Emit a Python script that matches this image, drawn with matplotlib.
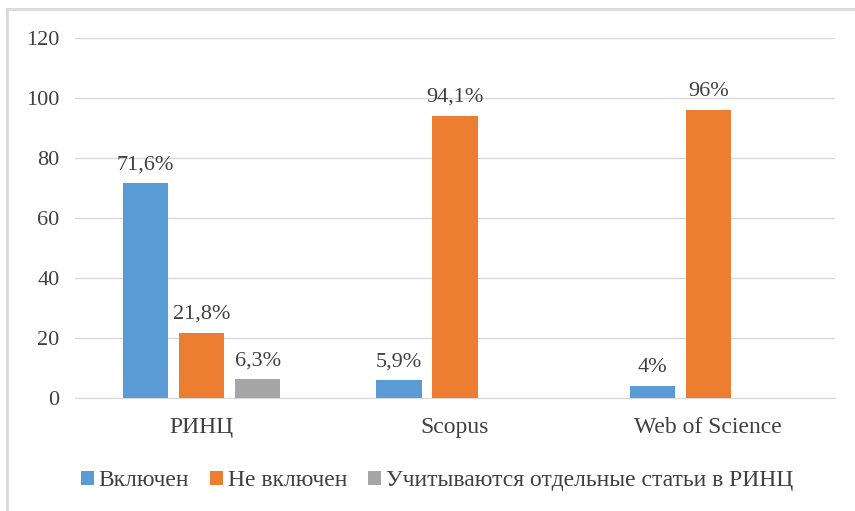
import matplotlib.pyplot as plt
import matplotlib.lines as mlines
import numpy as np

plt.rcParams['font.family'] = ['Liberation Serif', 'DejaVu Serif']

categories = ['РИНЦ', 'Scopus', 'Web of Science']
series_names = ['Включен', 'Не включен', 'Учитываются отдельные статьи в РИНЦ']
included = [71.6, 5.9, 4.0]
not_included = [21.8, 94.1, 96.0]
partial = [6.3, None, None]
included_lbl = ['71,6%', '5,9%', '4%']
not_included_lbl = ['21,8%', '94,1%', '96%']
partial_lbl = ['6,3%', None, None]

colors = ['#5B9BD5', '#ED7D31', '#A5A5A5']
txt = '#404040'

fig = plt.figure(figsize=(8.55, 5.11), dpi=100)
ax = fig.add_axes([75 / 855, 1 - 398 / 511, 760 / 855, 360 / 511])

x = np.arange(len(categories))
w = 0.178
step = 0.221

series = [(included, included_lbl), (not_included, not_included_lbl), (partial, partial_lbl)]
for k, (vals, lbls) in enumerate(series):
    xs = [x[i] + (k - 1) * step for i in range(len(vals)) if vals[i] is not None]
    vs = [v for v in vals if v is not None]
    ls = [l for l in lbls if l is not None]
    bars = ax.bar(xs, vs, width=w, color=colors[k], label=series_names[k], zorder=3)
    for b, l in zip(bars, ls):
        ax.text(b.get_x() + b.get_width() / 2, b.get_height() + 3.0, l,
                ha='center', va='bottom', fontsize=16, color=txt)

ax.set_xlim(-0.5, 2.5)
ax.set_ylim(0, 120)
ax.set_yticks(range(0, 121, 20))
ax.set_xticks(x)
ax.set_xticklabels(categories, fontsize=17)
ax.tick_params(axis='both', length=0, colors=txt)
ax.tick_params(axis='y', pad=11, labelsize=16)
ax.tick_params(axis='x', pad=14)
for s in ['top', 'right', 'left']:
    ax.spines[s].set_visible(False)
ax.spines['bottom'].set_color('#D9D9D9')
ax.grid(axis='y', color='#D9D9D9', linewidth=1, zorder=0)

leg = fig.legend(loc='center', bbox_to_anchor=(0.511, 0.059), ncol=3, frameon=False,
                 fontsize=17, handlelength=0.55, handleheight=0.55, handletextpad=0.2,
                 columnspacing=0.9)
for t in leg.get_texts():
    t.set_color(txt)

# outer frame (left and top edges only visible)
fig.add_artist(mlines.Line2D([0.008, 0.008], [0.0, 0.983], color='#D9D9D9', lw=2,
                             transform=fig.transFigure))
fig.add_artist(mlines.Line2D([0.008, 1.0], [0.983, 0.983], color='#D9D9D9', lw=2,
                             transform=fig.transFigure))

fig.savefig('out.png', dpi=100)
